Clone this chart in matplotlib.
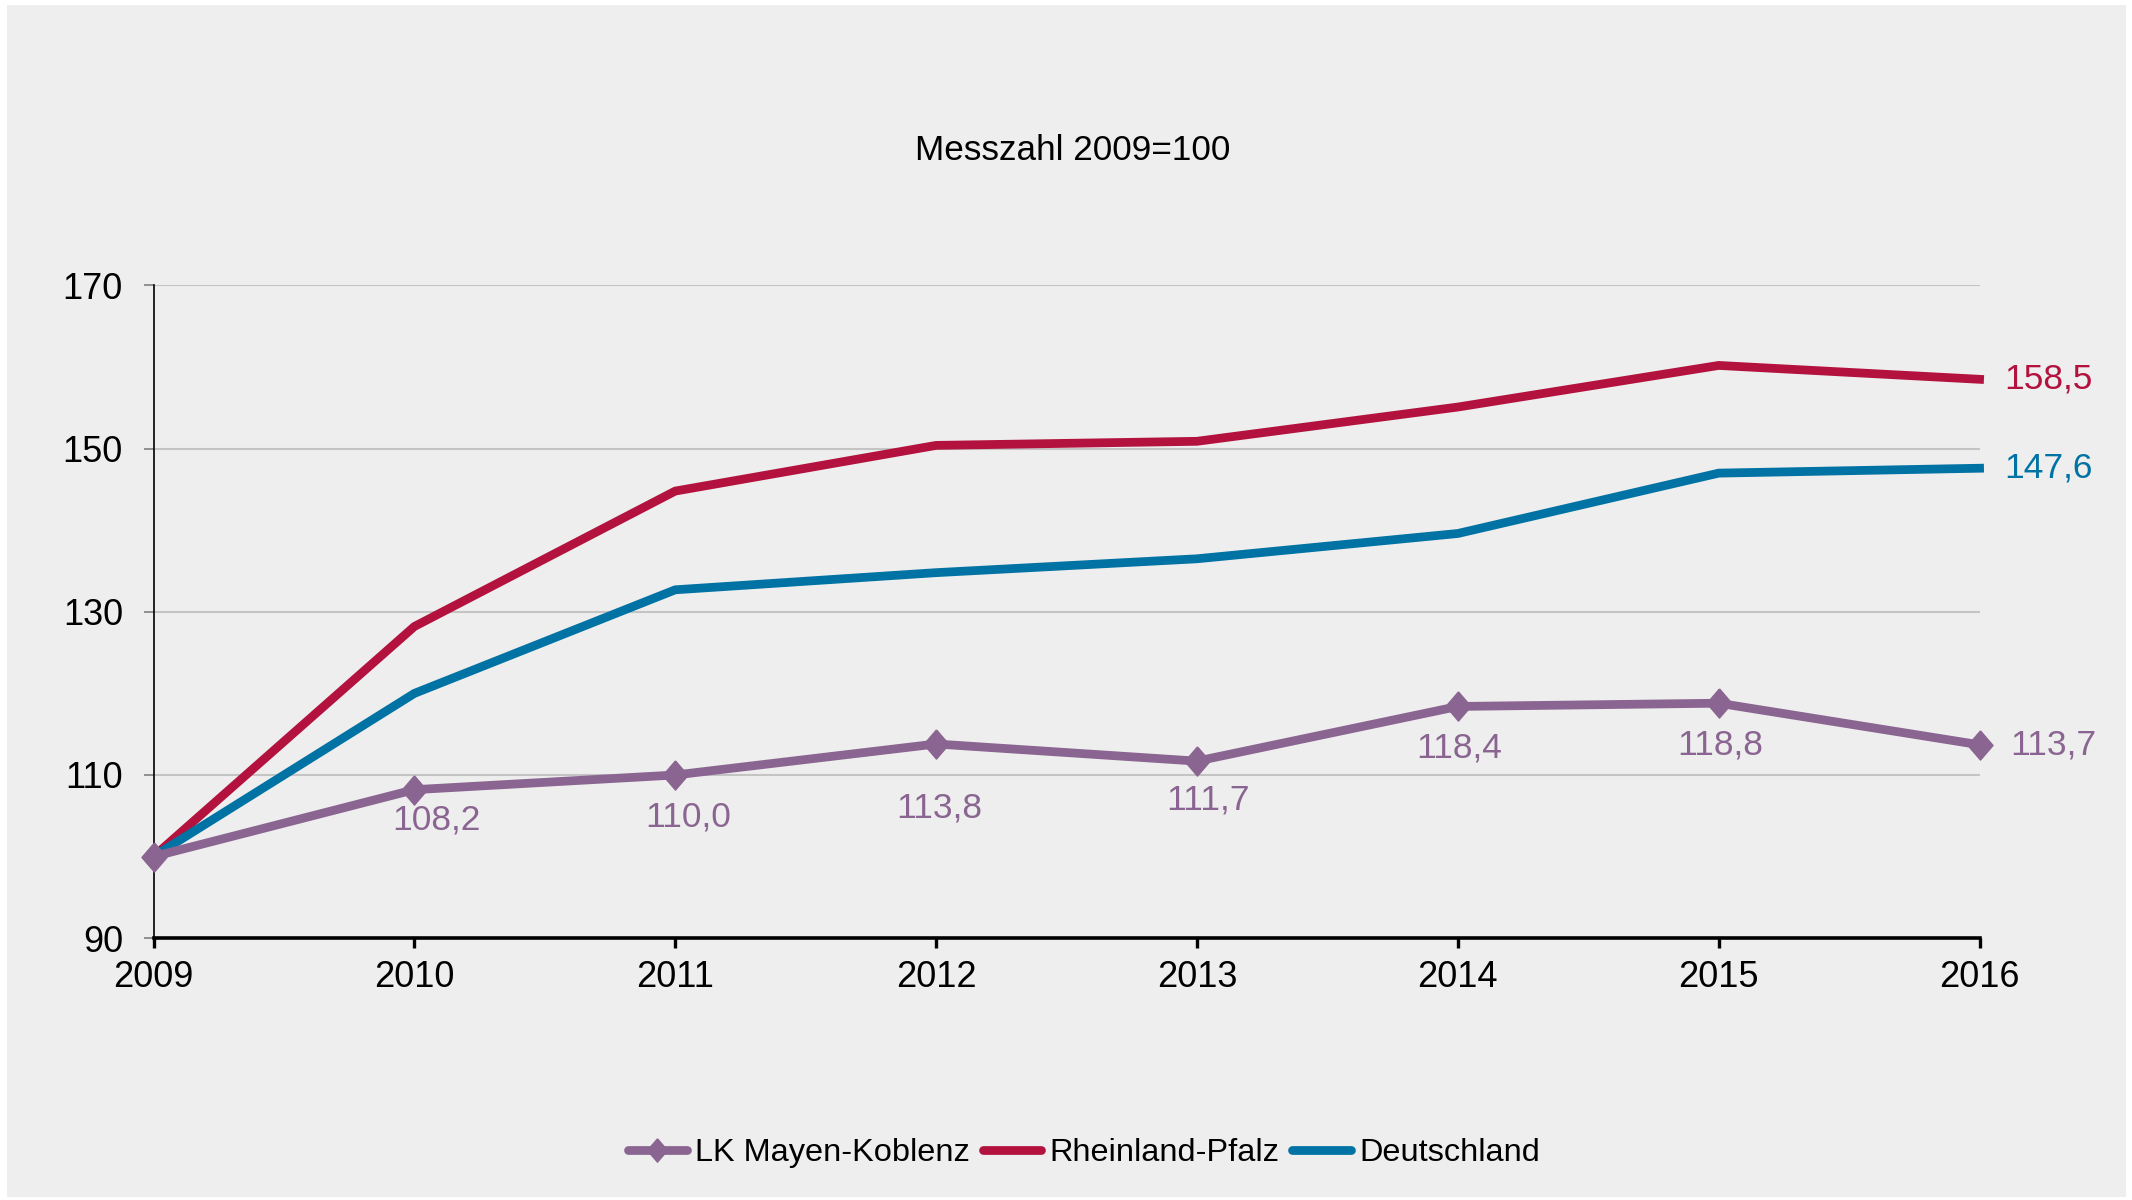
import matplotlib.pyplot as plt
from matplotlib.patches import Rectangle

plt.rcParams['font.family'] = ['Liberation Sans', 'DejaVu Sans']

# data
years = [2009, 2010, 2011, 2012, 2013, 2014, 2015, 2016]
lk_mayen = [100.0, 108.2, 110.0, 113.8, 111.7, 118.4, 118.8, 113.7]
rlp = [100.0, 128.2, 144.8, 150.4, 150.9, 155.1, 160.2, 158.5]
deutschland = [100.0, 120.0, 132.7, 134.8, 136.5, 139.6, 147.0, 147.6]
yticks = [90, 110, 130, 150, 170]

purple = '#8b6591'
red = '#b3123e'
blue = '#0072a3'

# slightly narrow diamond like the excel marker
diamond = [(0, 1), (0.86, 0), (0, -1), (-0.86, 0), (0, 1)]

# label offsets (points) for the purple labels under the points
lab_dx = [0, 16, 9, 2, 8, 1, 1]
lab_dy = [0, -22, -30, -46, -28, -30, -30]

fig = plt.figure(figsize=(21.32, 12), dpi=100, facecolor='white')
fig.patches.append(Rectangle((7/2132, 3/1200), 2119/2132, 1192/1200,
                             transform=fig.transFigure, facecolor='#eeeeee',
                             edgecolor='none', zorder=-10))

ax = fig.add_axes([0.0720, 0.2182, 0.8565, 0.5439])
ax.set_facecolor('none')
ax.set_zorder(2)

ax.plot(years, lk_mayen, color=purple, lw=6.3, marker=diamond, ms=21,
        label='LK Mayen-Koblenz', clip_on=False, zorder=5,
        solid_capstyle='round')
ax.plot(years, rlp, color=red, lw=6.3, label='Rheinland-Pfalz',
        clip_on=False, zorder=4)
ax.plot(years, deutschland, color=blue, lw=6.3, label='Deutschland',
        clip_on=False, zorder=4)

ax.set_xlim(2009, 2016)
ax.set_ylim(90, 170)
ax.set_xticks(years)
ax.set_yticks(yticks)

for y in yticks[1:]:
    ax.axhline(y, color='#c4c4c4', lw=1.5, zorder=1)

for s in ['top', 'right']:
    ax.spines[s].set_visible(False)
ax.spines['left'].set_linewidth(1.2)
ax.spines['bottom'].set_linewidth(2.6)
ax.spines['bottom'].set_zorder(6)
ax.tick_params(axis='y', length=7, width=1.2, pad=15, labelsize=26, color='#808080')
ax.tick_params(axis='x', length=7, width=2.4, pad=9, labelsize=26)

# data labels
for i in range(1, len(years) - 1):
    ax.annotate(f'{lk_mayen[i]:.1f}'.replace('.', ','), (years[i], lk_mayen[i]),
                xytext=(lab_dx[i], lab_dy[i]), textcoords='offset points',
                ha='center', va='center', fontsize=25.5, color=purple)
ax.annotate(f'{lk_mayen[-1]:.1f}'.replace('.', ','), (years[-1], lk_mayen[-1]),
            xytext=(22, 0), textcoords='offset points', ha='left', va='center',
            fontsize=25.5, color=purple)
ax.annotate(f'{rlp[-1]:.1f}'.replace('.', ','), (years[-1], rlp[-1]),
            xytext=(18, 0), textcoords='offset points', ha='left', va='center',
            fontsize=25.5, color=red)
ax.annotate(f'{deutschland[-1]:.1f}'.replace('.', ','), (years[-1], deutschland[-1]),
            xytext=(18, 0), textcoords='offset points', ha='left', va='center',
            fontsize=25.5, color=blue)

fig.text(1073/2132, 1 - 150/1200, 'Messzahl 2009=100', ha='center', va='center',
         fontsize=25.3)

leg = fig.legend(loc='center', bbox_to_anchor=(1084/2132, 1 - 1153/1200), ncol=3,
                 frameon=False, fontsize=23.4, handlelength=1.8, handletextpad=0.25,
                 columnspacing=0.4, markerscale=0.8)
for h in leg.legend_handles:
    h.set_solid_capstyle('round')

fig.savefig('out.png', dpi=100, facecolor='white')
